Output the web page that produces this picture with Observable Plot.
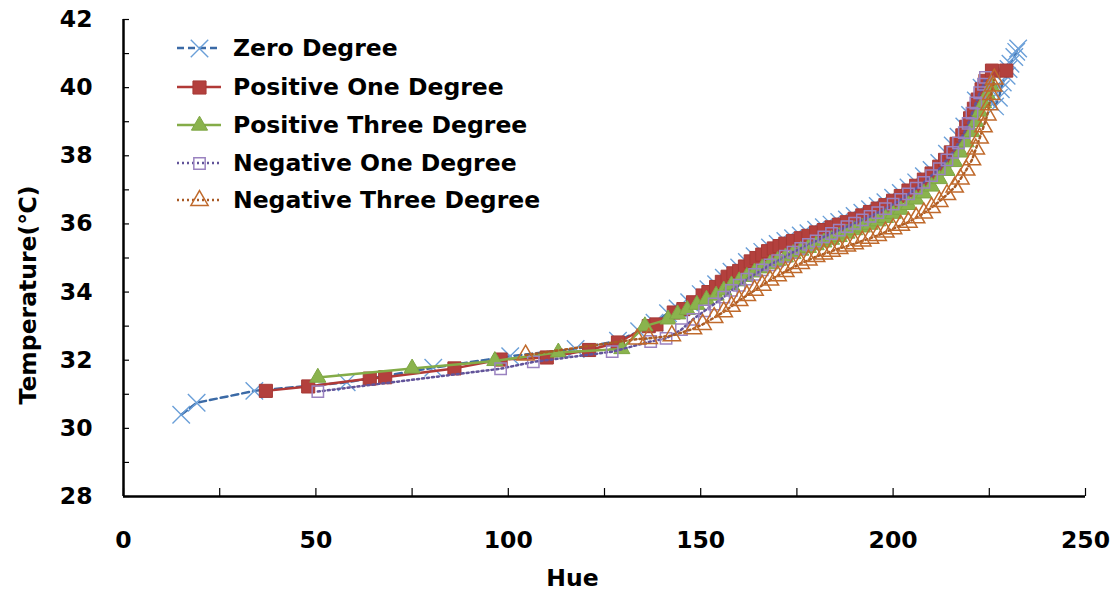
<!DOCTYPE html>
<html>
<head>
<meta charset="utf-8">
<script src="https://cdn.jsdelivr.net/npm/d3@7"></script>
<script src="https://cdn.jsdelivr.net/npm/@observablehq/plot@0.6"></script>
<style>
  body { margin: 0; background: #fff; }
  #wrap { position: relative; width: 1118px; height: 605px; font-family: "DejaVu Sans", sans-serif; font-weight: bold; }
  #legend { position: absolute; left: 174px; top: 30px; }
  .row { position: absolute; left: 0; height: 36px; display: flex; align-items: center; white-space: nowrap; font-size: 23.5px; color: #000; }
  .row svg { margin-right: 9px; }
</style>
</head>
<body>
<div id="wrap"><div id="legend"></div></div>
<script>
const seriesNames = ["Zero Degree", "Positive One Degree", "Positive Three Degree", "Negative One Degree", "Negative Three Degree"];

const hueZero = [15,19,34,58,80.5,100.5,117.5,128.5,134,138,141.5,144,147,150,152,154,156,158,160,162,164,166,168,170,172,174,176,178,180,182,184,186,188,190,192,194,196,198,200,202,204,206,208,210,212,214,215.5,217,218.5,220,221.5,223,226.5,227.5,228,228.5,229.5,230,230.5,231.5,232,232.5];
const tempZero = [30.4,30.75,31.1,31.35,31.78,32.12,32.33,32.57,32.85,33.1,33.38,33.52,33.7,33.94,34.08,34.23,34.42,34.6,34.72,34.88,35.05,35.18,35.31,35.41,35.5,35.58,35.66,35.73,35.83,35.9,35.98,36.06,36.13,36.23,36.33,36.43,36.53,36.64,36.77,36.91,37.07,37.22,37.4,37.58,37.79,38.06,38.3,38.56,38.86,39.2,39.62,40.0,39.45,39.7,39.95,40.15,40.35,40.55,40.7,40.9,41.05,41.15];

const huePos1 = [37,48,64,68,86,98,110,121,128.5,136.5,138.5,143,145.5,148,150.5,152,154,155.5,157,158.5,160,161.5,163,164.5,166,167.5,169,170.5,172,174,176,178,180,182,184,186,188,190,192,194,196,198,200,202,204,206,208,210,212,213.5,215,216.5,218,219,220,221,222,223,224,225.7,229.4];
const tempPos1 = [31.1,31.23,31.46,31.5,31.76,32.02,32.08,32.3,32.52,33.0,33.05,33.4,33.5,33.7,33.9,34.0,34.15,34.3,34.45,34.55,34.62,34.75,34.9,35.0,35.1,35.2,35.28,35.35,35.42,35.5,35.58,35.65,35.75,35.82,35.9,35.98,36.05,36.15,36.25,36.35,36.45,36.55,36.68,36.82,36.98,37.12,37.3,37.48,37.68,37.88,38.1,38.35,38.6,38.85,39.1,39.38,39.65,39.95,40.2,40.5,40.5];

const huePos3 = [50.5,75,96.5,113,129.5,135.5,141.5,144,146.5,149,151.5,154,156,158,160,162,164,166,168,170,172,174,176,178,180,182,184,186,188,190,192,194,196,198,200,202,204,206,208,210,212,214,216,217.5,219,220.5,221.5,222.5,223.5,224.5,225.5];
const tempPos3 = [31.49,31.76,31.98,32.23,32.33,33.0,33.2,33.35,33.48,33.63,33.78,33.9,34.05,34.2,34.32,34.45,34.58,34.7,34.82,34.92,35.02,35.12,35.22,35.3,35.38,35.46,35.54,35.62,35.72,35.82,35.9,35.98,36.08,36.18,36.3,36.42,36.56,36.72,36.9,37.1,37.32,37.56,37.82,38.1,38.4,38.7,39.0,39.3,39.55,39.8,40.05];

const hueNeg1 = [50.5,98,106.5,127,137,141,145,148,151,153.5,156,158,160,162,164,166,168,170,172,174,176,178,180,182,184,186,188,190,192,194,196,198,200,202,204,206,208,210,212,214,215.5,217,218.5,219.5,220.5,221.5,222.5,223.5,224];
const tempNeg1 = [31.08,31.75,31.95,32.25,32.55,32.64,32.9,33.2,33.45,33.65,33.85,34.05,34.2,34.38,34.52,34.65,34.8,34.92,35.05,35.17,35.28,35.4,35.5,35.62,35.72,35.82,35.92,36.02,36.12,36.22,36.33,36.45,36.58,36.72,36.88,37.05,37.22,37.42,37.62,37.88,38.1,38.38,38.68,38.95,39.25,39.55,39.85,40.1,40.3];

const hueNeg3 = [104.5,133.5,136.5,142.5,148,150.5,153.5,156,158,160,162,164,166,168,170,172,174,176,178,180,182,184,186,188,190,192,194,196,198,200,202,204,206,208,210,212,214,216,217.5,219,220.5,221.5,222.5,223.5,224.5,225,225.5,226,226.3];
const tempNeg3 = [32.15,32.62,32.64,32.72,32.92,33.05,33.25,33.42,33.58,33.75,33.9,34.05,34.2,34.35,34.48,34.6,34.72,34.84,34.94,35.04,35.12,35.2,35.28,35.35,35.42,35.5,35.58,35.66,35.76,35.86,35.96,36.05,36.18,36.32,36.48,36.66,36.86,37.08,37.32,37.58,37.88,38.2,38.52,38.85,39.2,39.5,39.8,40.05,40.25];

const xTickValues = [0,25,50,75,100,125,150,175,200,225,250];
const xLabelValues = [0,50,100,150,200,250];
const yTickValues = [28,29,30,31,32,33,34,35,36,37,38,39,40,41,42];
const yLabelValues = [28,30,32,34,36,38,40,42];

const hues = [hueZero, huePos1, huePos3, hueNeg1, hueNeg3];
const temps = [tempZero, tempPos1, tempPos3, tempNeg1, tempNeg3];

const styles = [
  {line: "#3b6aa6", dash: "7,4", symbol: "times", r: 8, fill: "none", mstroke: "#6a9fd8", mw: 1.4},
  {line: "#b13a37", dash: null, symbol: "square", r: 7.4, fill: "#b3403d", mstroke: "#a63935", mw: 1},
  {line: "#84ac48", dash: null, symbol: "triangle", r: 6, fill: "#8ab34d", mstroke: "#7ea645", mw: 1},
  {line: "#62549a", dash: "2,3", symbol: "square", r: 6.4, fill: "none", mstroke: "#9a82c0", mw: 1.5},
  {line: "#a95a24", dash: "2,3", symbol: "triangle", r: 6.4, fill: "none", mstroke: "#c06a2c", mw: 1.5}
];

const series = seriesNames.map((name, i) => hues[i].map((h, j) => ({series: name, hue: h, temp: temps[i][j]})));

const marks = [];
series.forEach((data, i) => {
  const s = styles[i];
  marks.push(Plot.line(data, {x: "hue", y: "temp", stroke: s.line, strokeWidth: 2.5, strokeDasharray: s.dash}));
  marks.push(Plot.dot(data, {x: "hue", y: "temp", symbol: s.symbol, r: s.r, fill: s.fill, stroke: s.mstroke, strokeWidth: s.mw}));
});

const FONT = '"DejaVu Sans", sans-serif';
const FS = 23.5;

const chart = Plot.plot({
  width: 1118,
  height: 605,
  marginLeft: 123,
  marginRight: 33,
  marginTop: 19,
  marginBottom: 109,
  style: {fontFamily: FONT, fontWeight: "bold", fontSize: FS + "px", color: "#000", background: "transparent"},
  x: {domain: [0, 250]},
  y: {domain: [28, 42]},
  marks: [
    Plot.axisY(yLabelValues, {anchor: "left", tickSize: 0, tickPadding: 31, fontSize: FS, fontWeight: "bold", label: null}),
    Plot.axisY(yTickValues, {anchor: "left", tickSize: -6, strokeWidth: 1.2, tickFormat: () => "", label: null}),
    Plot.axisX(xLabelValues, {anchor: "bottom", tickSize: 0, tickPadding: 35, fontSize: FS, fontWeight: "bold", label: null}),
    Plot.axisX(xTickValues, {anchor: "bottom", tickSize: -8, strokeWidth: 1.2, tickFormat: () => "", label: null}),
    ...marks,
    Plot.ruleX([0], {stroke: "#000", strokeWidth: 2.5}),
    Plot.ruleY([28], {stroke: "#000", strokeWidth: 2.5}),
    Plot.text(["Hue"], {frameAnchor: "bottom", textAnchor: "middle", dx: -32, dy: 89, fontSize: FS, fontWeight: "bold", fill: "#000"}),
    Plot.text(["Temperature(℃)"], {frameAnchor: "left", textAnchor: "middle", rotate: -90, dx: -95, dy: 37, fontSize: FS, fontWeight: "bold", fill: "#000"})
  ]
});
document.getElementById("wrap").prepend(chart);

// legend
const legend = document.getElementById("legend");
const rowY = [0, 39, 77, 115, 152];
seriesNames.forEach((name, i) => {
  const s = styles[i];
  const row = document.createElement("div");
  row.className = "row";
  row.style.top = rowY[i] + "px";
  const sym = Plot.dot([0], {x: () => 25, y: () => 10, symbol: s.symbol, r: s.r, fill: s.fill, stroke: s.mstroke, strokeWidth: s.mw}).plot({
    width: 50, height: 20, margin: 0, x: {type: "identity"}, y: {type: "identity"}, axis: null,
    style: {background: "transparent", overflow: "visible"}
  });
  const ns = "http://www.w3.org/2000/svg";
  const ln = document.createElementNS(ns, "line");
  ln.setAttribute("x1", 3); ln.setAttribute("x2", 47); ln.setAttribute("y1", 10); ln.setAttribute("y2", 10);
  ln.setAttribute("stroke", s.line); ln.setAttribute("stroke-width", 2.5);
  if (s.dash) ln.setAttribute("stroke-dasharray", s.dash);
  sym.insertBefore(ln, sym.firstChild.nextSibling);
  row.appendChild(sym);
  const t = document.createElement("span");
  t.textContent = name;
  row.appendChild(t);
  legend.appendChild(row);
});
</script>
</body>
</html>
